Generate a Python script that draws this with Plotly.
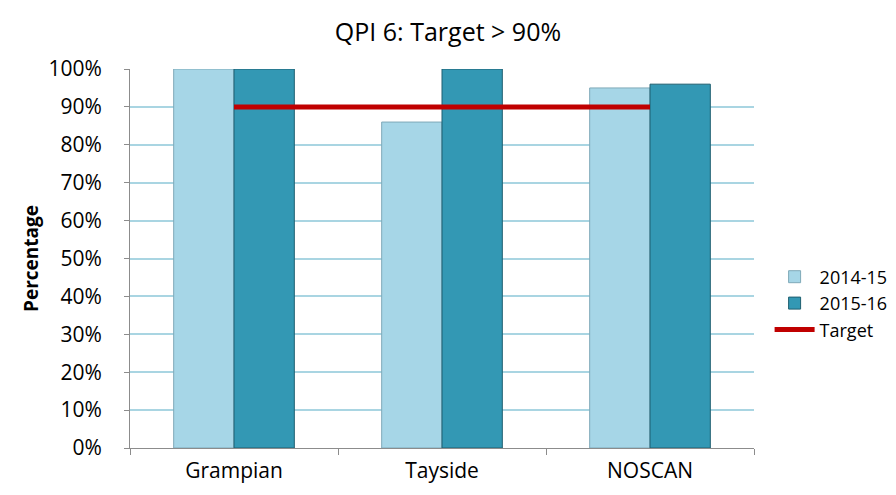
import plotly.graph_objects as go

# Chart data
regions = ["Grampian", "Tayside", "NOSCAN"]
pct_2014_15 = [100, 86, 95]
pct_2015_16 = [100, 100, 96]
target_pct = [90, 90, 90]
y_ticks = [0, 10, 20, 30, 40, 50, 60, 70, 80, 90, 100]
y_tick_labels = [f"{v}%" for v in y_ticks]

FONT = "'Open Sans', sans-serif"

fig = go.Figure()

fig.add_trace(go.Bar(
    name="2014-15", x=regions, y=pct_2014_15,
    marker=dict(color="#A6D6E7", line=dict(color="#7FA9B8", width=1)),
))
fig.add_trace(go.Bar(
    name="2015-16", x=regions, y=pct_2015_16,
    marker=dict(color="#3398B4", line=dict(color="#1F5F70", width=1)),
))
fig.add_trace(go.Scatter(
    name="Target", x=regions, y=target_pct, mode="lines",
    line=dict(color="#C00000", width=5),
))

fig.update_layout(
    width=896, height=495,
    margin=dict(l=130, r=142, t=69, b=47, autoexpand=False),
    paper_bgcolor="white", plot_bgcolor="white",
    barmode="group", bargap=0.42, bargroupgap=0,
    title=dict(text="QPI 6: Target > 90%", x=0.5, xanchor="center",
               y=0.935, yanchor="middle",
               font=dict(family=FONT, size=25, color="#000")),
    font=dict(family=FONT, size=21, color="#000"),
    showlegend=True,
    legend=dict(x=1.025, xanchor="left", y=0.5, yanchor="top",
                font=dict(family=FONT, size=18, color="#000"),
                tracegroupgap=0, itemwidth=40, bgcolor="rgba(0,0,0,0)"),
    xaxis=dict(
        showgrid=False, showline=True, linecolor="#8C8C8C", linewidth=1,
        ticks="outside", tickson="boundaries", ticklen=6, tickcolor="#8C8C8C",
        tickfont=dict(family=FONT, size=21), ticklabelstandoff=4,
        automargin=False,
    ),
    yaxis=dict(
        range=[0, 100], tickvals=y_ticks, ticktext=y_tick_labels,
        showgrid=True, gridcolor="#A9D5E2", gridwidth=2,
        showline=True, linecolor="#8C8C8C", linewidth=1,
        ticks="outside", ticklen=5, tickcolor="#8C8C8C",
        tickfont=dict(family=FONT, size=21), ticklabelstandoff=18,
        title=dict(text="<b>Percentage</b>", font=dict(family=FONT, size=19), standoff=4),
        zeroline=False, automargin=False,
    ),
)

fig.write_html("out.html")
